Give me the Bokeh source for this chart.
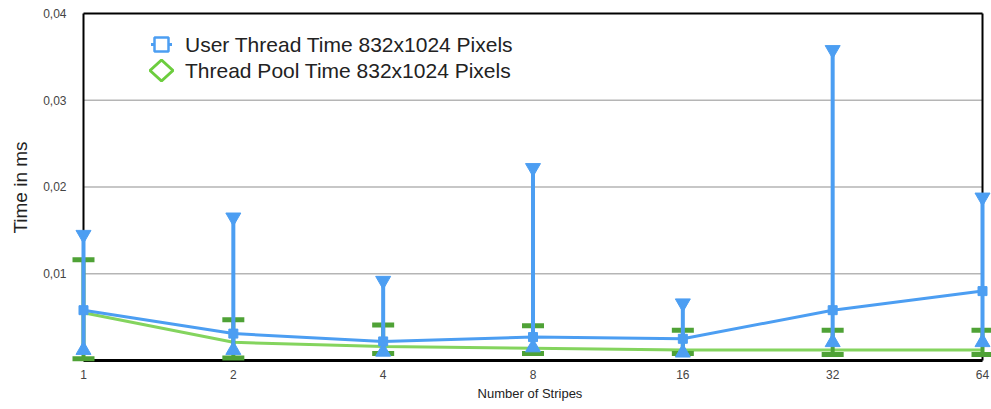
import numpy as np
from bokeh.plotting import figure
from bokeh.models import (ColumnDataSource, Range1d, FixedTicker, Legend, LegendItem,
                          CustomJSTickFormatter, PolyAnnotation)
from bokeh.embed import file_html
from bokeh.resources import INLINE

# ---- data ----
categories = ["1", "2", "4", "8", "16", "32", "64"]
user_mean = [0.0058, 0.0031, 0.0022, 0.0027, 0.0025, 0.0058, 0.0080]
user_upper = [0.0145, 0.0165, 0.0092, 0.0222, 0.0066, 0.0358, 0.0188]
user_lower = [0.0012, 0.0012, 0.0010, 0.0015, 0.0009, 0.0021, 0.0021]
pool_mean = [0.0055, 0.0021, 0.0016, 0.0014, 0.0012, 0.0012, 0.0012]
pool_upper = [0.0116, 0.0047, 0.0041, 0.0040, 0.0035, 0.0035, 0.0035]
pool_lower = [0.0002, 0.0003, 0.0008, 0.0008, 0.0008, 0.0007, 0.0007]
y_ticks = [0.01, 0.02, 0.03, 0.04]
y_max = 0.04
series_names = ["User Thread Time 832x1024 Pixels", "Thread Pool Time 832x1024 Pixels"]
x_title = "Number of Stripes"
y_title = "Time in ms"

BLUE = "#4C9EF2"
GREEN_LINE = "#84D45E"
GREEN_DARK = "#4FA236"
GREEN_LEG = "#6CCD3E"
FONT = "Liberation Sans"
H = 409

x = list(range(len(categories)))
xmax = x[-1]

src = ColumnDataSource(dict(x=x, um=user_mean, uu=user_upper, ul=user_lower,
                            pm=pool_mean, pu=pool_upper, pl=pool_lower))

p = figure(width=991, height=H, output_backend="svg", toolbar_location=None,
           x_range=Range1d(-0.1001, xmax + 0.06), y_range=Range1d(-0.000346, 0.04023),
           min_border_left=68, min_border_right=0, min_border_top=11, min_border_bottom=46)
p.outline_line_color = None
p.xgrid.visible = False
p.ygrid.visible = False

# gridlines inside the frame box
gy = [t for t in y_ticks if t < y_max]
p.segment(x0=[0] * len(gy), x1=[xmax] * len(gy), y0=gy, y1=gy, line_color="#b5b5b5", line_width=1.5)

# frame box
p.segment(x0=[0, xmax, 0], x1=[0, xmax, xmax], y0=[0, 0, y_max], y1=[y_max, y_max, y_max],
          line_color="black", line_width=2)
p.segment(x0=[0], x1=[xmax], y0=[0], y1=[0], line_color="black", line_width=3)

# thread pool series
p.line("x", "pm", source=src, color=GREEN_LINE, line_width=3)
p.segment(x0="x", x1="x", y0="pl", y1="pu", source=src, line_color=GREEN_DARK, line_width=4)
p.scatter("x", "pu", source=src, marker="dash", size=22, line_color=GREEN_DARK, line_width=5)
p.scatter("x", "pl", source=src, marker="dash", size=22, line_color=GREEN_DARK, line_width=5)

# user thread series
p.line("x", "um", source=src, color=BLUE, line_width=3)
p.segment(x0="x", x1="x", y0="ul", y1="uu", source=src, line_color=BLUE, line_width=4)
p.scatter("x", "uu", source=src, marker="inverted_triangle", size=15, color=BLUE)
p.scatter("x", "ul", source=src, marker="triangle", size=15, color=BLUE)
p.scatter("x", "um", source=src, marker="square", size=9, fill_color=BLUE, line_color=BLUE)

# legend text (glyphs invisible); symbols drawn as canvas-space polygons
nan_src = ColumnDataSource(dict(x=[np.nan], y=[np.nan]))
lb_dummy = p.line("x", "y", source=nan_src, color=BLUE, line_alpha=0)
lg_dummy = p.line("x", "y", source=nan_src, color=GREEN_LEG, line_alpha=0)
legend = Legend(items=[LegendItem(label=series_names[0], renderers=[lb_dummy]),
                       LegendItem(label=series_names[1], renderers=[lg_dummy])],
                location=(82, 280), padding=0, margin=0, spacing=2,
                glyph_width=22, glyph_height=22, label_height=22, label_standoff=13,
                label_text_font=FONT, label_text_font_size="21px", label_text_color="#222222",
                border_line_alpha=0, background_fill_alpha=0)
p.add_layout(legend)

# legend symbols: hollow square with line stubs (blue), hollow diamond (green); canvas y runs downward
cx, cy1, cy2 = 161, 44, 70
for x0s, x1s in ((cx - 10.5, cx - 7), (cx + 7, cx + 10.5)):
    p.add_layout(PolyAnnotation(xs=[x0s, x1s, x1s, x0s], ys=[cy1 - 1.5, cy1 - 1.5, cy1 + 1.5, cy1 + 1.5],
                                xs_units="canvas", ys_units="canvas",
                                fill_color=BLUE, fill_alpha=1, line_alpha=0))
sq = PolyAnnotation(xs=[cx - 7, cx + 7, cx + 7, cx - 7], ys=[cy1 - 7, cy1 - 7, cy1 + 7, cy1 + 7],
                    xs_units="canvas", ys_units="canvas",
                    fill_color="white", fill_alpha=1, line_color=BLUE, line_alpha=1, line_width=2.5)
dm = PolyAnnotation(xs=[cx - 11.5, cx, cx + 11.5, cx], ys=[cy2, cy2 - 10.5, cy2, cy2 + 10.5],
                    xs_units="canvas", ys_units="canvas",
                    fill_color="white", fill_alpha=1, line_color=GREEN_LEG, line_alpha=1, line_width=3)
p.add_layout(sq)
p.add_layout(dm)

# axes
p.xaxis.ticker = FixedTicker(ticks=x)
p.xaxis.major_label_overrides = {i: c for i, c in enumerate(categories)}
p.yaxis.ticker = FixedTicker(ticks=y_ticks)
p.yaxis.formatter = CustomJSTickFormatter(code="return tick.toFixed(2).replace('.', ',');")
for ax in (p.xaxis[0], p.yaxis[0]):
    ax.axis_line_color = None
    ax.major_tick_line_color = None
    ax.minor_tick_line_color = None
    ax.major_tick_out = 0
    ax.major_tick_in = 0
    ax.minor_tick_out = 0
    ax.minor_tick_in = 0
    ax.major_label_text_font = FONT
    ax.major_label_text_font_size = "12px"
    ax.major_label_text_color = "#444444"
    ax.axis_label_text_font = FONT
    ax.axis_label_text_font_style = "normal"
    ax.axis_label_text_color = "#222222"
p.xaxis.axis_label = x_title
p.xaxis.axis_label_text_font_size = "13px"
p.xaxis.major_label_standoff = 6
p.xaxis.axis_label_standoff = 4
p.yaxis.axis_label = y_title
p.yaxis.axis_label_text_font_size = "19px"
p.yaxis.major_label_standoff = 2
p.yaxis.axis_label_standoff = 9

open("out.html", "w").write(file_html(p, INLINE))
